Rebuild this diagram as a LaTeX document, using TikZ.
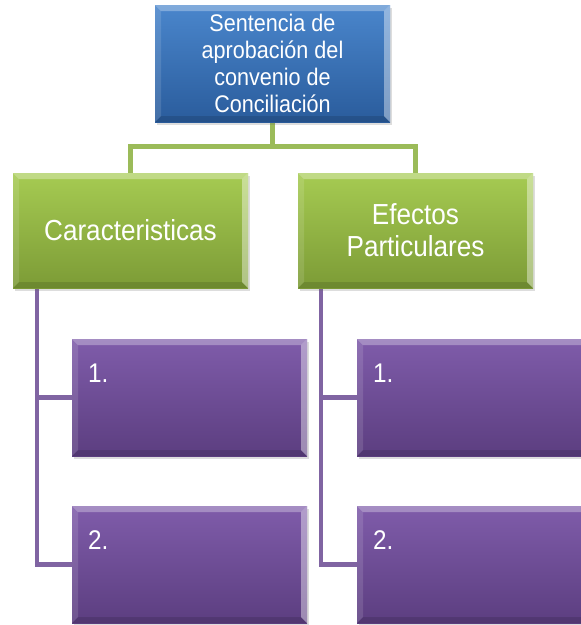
\documentclass[tikz,border=0pt]{standalone}
\usepackage{fontspec}
\newfontfamily\arialn[FakeStretch=0.9]{Liberation Sans}
\usetikzlibrary{shadows,backgrounds}
\definecolor{bluetop}{HTML}{4A86CC}
\definecolor{bluebot}{HTML}{2A5C9C}
\definecolor{greentop}{HTML}{A6CB52}
\definecolor{greenbot}{HTML}{7C9B36}
\definecolor{purptop}{HTML}{7F5CAA}
\definecolor{purpbot}{HTML}{5C3E80}
\definecolor{gline}{HTML}{9BBB59}
\definecolor{pline}{HTML}{8064A2}
\tikzset{
  bevel/.style={
    path picture={
      \fill[white,opacity=0.3] (path picture bounding box.north west) -- (path picture bounding box.north east)
        -- ([xshift=-6pt,yshift=-6pt]path picture bounding box.north east) -- ([xshift=6pt,yshift=-6pt]path picture bounding box.north west) -- cycle;
      \fill[white,opacity=0.12] (path picture bounding box.north west) -- ([xshift=6pt,yshift=-6pt]path picture bounding box.north west)
        -- ([xshift=6pt,yshift=6pt]path picture bounding box.south west) -- (path picture bounding box.south west) -- cycle;
      \fill[white,opacity=0.4] (path picture bounding box.north east) -- ([xshift=-6pt,yshift=-6pt]path picture bounding box.north east)
        -- ([xshift=-6pt,yshift=6pt]path picture bounding box.south east) -- (path picture bounding box.south east) -- cycle;
      \fill[black,opacity=0.12] (path picture bounding box.south west) -- ([xshift=6pt,yshift=6pt]path picture bounding box.south west)
        -- ([xshift=-6pt,yshift=6pt]path picture bounding box.south east) -- (path picture bounding box.south east) -- cycle;
    }},
  box/.style={rectangle, minimum width=235pt, minimum height=117pt, inner sep=0pt, bevel,
    drop shadow={shadow xshift=1.5pt, shadow yshift=-2.5pt, opacity=0.22, fill=black!60},
    text=white, font=\arialn, align=center},
  bluebox/.style={box, top color=bluetop, bottom color=bluebot, font=\arialn\fontsize{24}{27}\selectfont},
  greenbox/.style={box, minimum height=115pt, top color=greentop, bottom color=greenbot, font=\arialn\fontsize{29}{32}\selectfont},
  purpbox/.style={box, top color=purptop, bottom color=purpbot},
  numtext/.style={anchor=base west, text=white, inner sep=0pt, font=\arialn\fontsize{27}{30}\selectfont},
  gconn/.style={draw=gline, line width=5pt},
  pconn/.style={draw=pline, line width=4.5pt},
}
\begin{document}
\begin{tikzpicture}[x=1pt,y=-1pt]
\clip (0,0) rectangle (581,625);
\node[bluebox] (top) at (272.5,63.5) {Sentencia de\\aprobación del\\convenio de\\Conciliación};
\node[greenbox] (gl) at (130.5,230.5) {Caracteristicas};
\node[greenbox] (gr) at (415.5,230.5) {Efectos\\Particulares};
\node[purpbox] (p1l) at (189.5,397.5) {};
\node[purpbox] (p2l) at (189.5,564.5) {};
\node[purpbox] (p1r) at (474.5,397.5) {};
\node[purpbox] (p2r) at (474.5,564.5) {};
\node[numtext] (t1l) at ([xshift=16pt,yshift=-44pt]p1l.north west) {1.};
\node[numtext] (t2l) at ([xshift=16pt,yshift=-44pt]p2l.north west) {2.};
\node[numtext] (t1r) at ([xshift=16pt,yshift=-44pt]p1r.north west) {1.};
\node[numtext] (t2r) at ([xshift=16pt,yshift=-44pt]p2r.north west) {2.};
\coordinate (gjoin) at (272.5,146);
\coordinate (lt) at (37,286);
\coordinate (rt) at (321,286);
\begin{scope}[on background layer]
\fill[white] (0,0) rectangle (581,625);
\draw[gconn] (top.south) -- (gjoin) -| (gl.north);
\draw[gconn] (gjoin) -| (gr.north);
\draw[pconn] (lt) |- (p1l.west);
\draw[pconn] (lt) |- (p2l.west);
\draw[pconn] (rt) |- (p1r.west);
\draw[pconn] (rt) |- (p2r.west);
\end{scope}
\end{tikzpicture}
\end{document}
